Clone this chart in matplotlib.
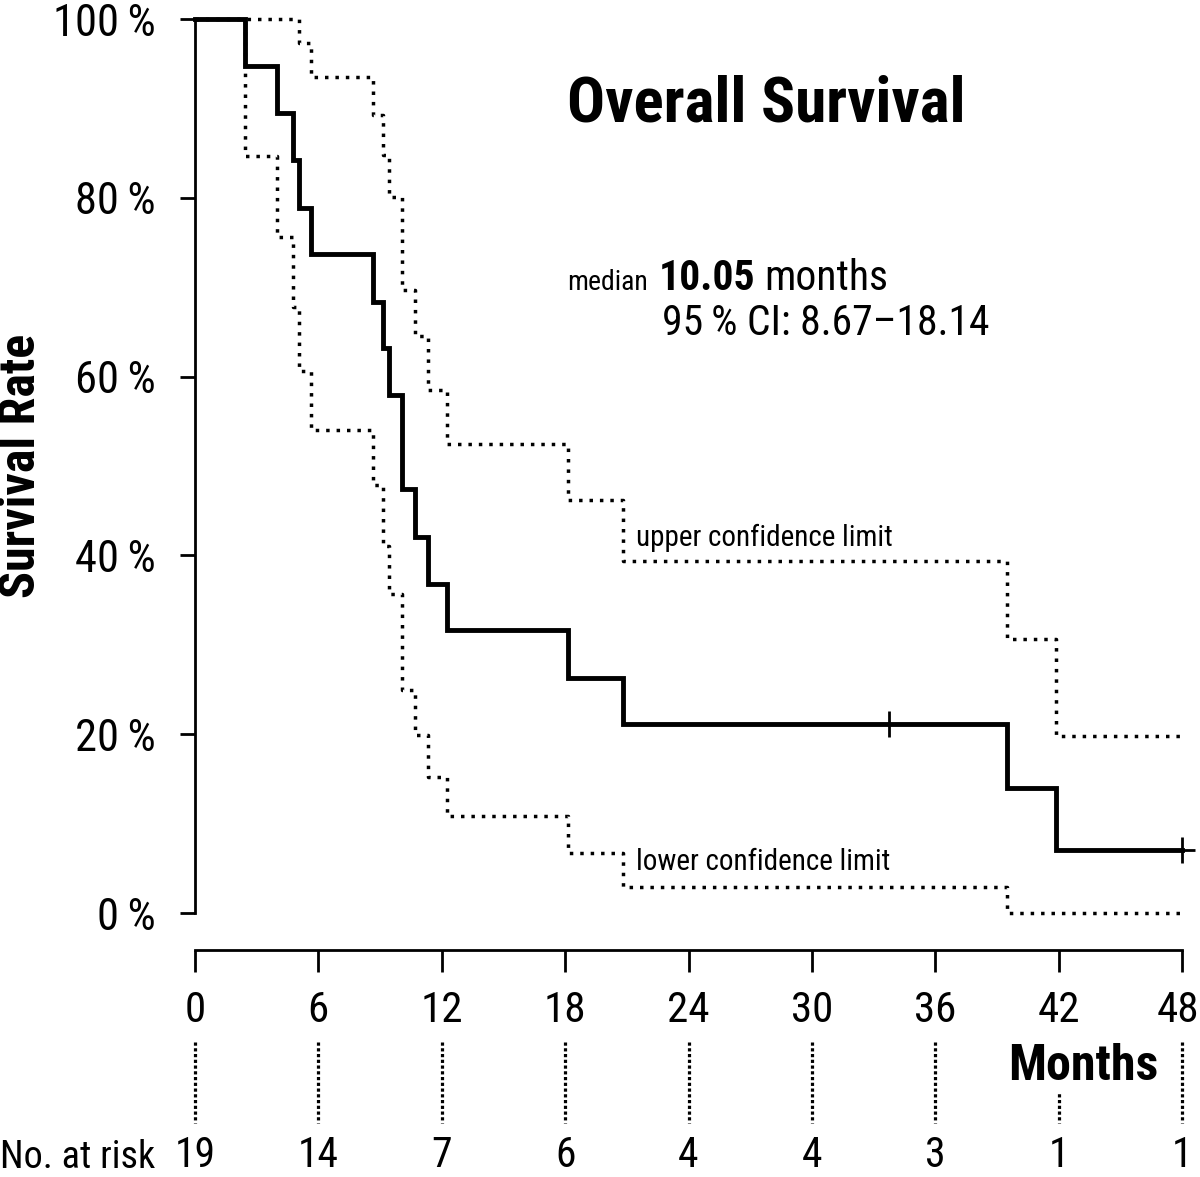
import matplotlib

matplotlib.use("Agg")
import matplotlib.pyplot as plt  # noqa: E402
from matplotlib import font_manager as fm  # noqa: E402
from matplotlib.transforms import ScaledTranslation, blended_transform_factory  # noqa: E402

# the original uses a condensed sans; take the narrowest one available
_have = {(f.name, f.stretch) for f in fm.fontManager.ttflist}
_names = {f.name for f in fm.fontManager.ttflist}
FAMILY, STRETCH = "DejaVu Sans", "normal"
for fam, st in [("Roboto Condensed", "normal"), ("Liberation Sans Narrow", "normal"),
                ("Open Sans Condensed", "normal"), ("Noto Sans", "condensed"),
                ("DejaVu Sans", "condensed"), ("Open Sans", "condensed"),
                ("Roboto", "condensed")]:
    if (fam, st) in _have or (st == "normal" and fam in _names):
        FAMILY, STRETCH = fam, st
        break
plt.rcParams["font.family"] = [FAMILY, "DejaVu Sans"]
plt.rcParams["font.stretch"] = STRETCH

# Kaplan-Meier estimate (months, % surviving)
times = [0, 2.43, 3.97, 4.75, 5.07, 5.64, 8.67, 9.16, 9.43, 10.05,
         10.70, 11.35, 12.24, 18.14, 20.83, 39.50, 41.88, 48.0]
surv = [100, 94.7, 89.5, 84.2, 78.9, 73.7, 68.4, 63.2, 57.9, 47.4,
        42.1, 36.8, 31.6, 26.3, 21.1, 14.0, 7.0, 7.0]
upper = [100, 100, 100, 100, 97.3, 93.5, 89.3, 84.8, 80.1, 69.7,
         64.5, 58.5, 52.5, 46.2, 39.4, 30.6, 19.8, 19.8]
lower = [100, 84.7, 75.6, 67.8, 60.6, 54.0, 47.9, 41.0, 35.7, 24.9,
         19.9, 15.2, 10.8, 6.7, 2.9, 0.0, 0.0, 0.0]
censor_t = [33.75, 48.0]
censor_s = [21.1, 7.0]

month_ticks = [0, 6, 12, 18, 24, 30, 36, 42, 48]
at_risk = [19, 14, 7, 6, 4, 4, 3, 1, 1]
pct_ticks = [0, 20, 40, 60, 80, 100]

W, H = 1200, 1177


def fy(py):
    return 1 - py / H


fig = plt.figure(figsize=(W / 100, H / 100), dpi=100)
ax = fig.add_axes([195 / W, fy(913), (1182 - 195) / W, (913 - 19) / H])
ax.set_xlim(0, 48)
ax.set_ylim(0, 100)

dots = (0, (1, 2.0))
ax.step(times, upper, where="post", color="black", lw=2.5, ls=dots, clip_on=False)
ax.step(times, lower, where="post", color="black", lw=2.5, ls=dots, clip_on=False)
ax.step(times, surv, where="post", color="black", lw=3.5, clip_on=False,
        solid_joinstyle="miter")
ax.plot(censor_t, censor_s, ls="none", marker="+", ms=19, mew=2,
        color="black", clip_on=False)

for s in ("top", "right"):
    ax.spines[s].set_visible(False)
ax.spines["left"].set_linewidth(2)
ax.spines["bottom"].set_linewidth(2)
ax.spines["bottom"].set_position(("outward", 26.6))

ax.set_xticks(month_ticks)
ax.set_xticklabels([str(m) for m in month_ticks])
ax.set_yticks(pct_ticks)
ax.set_yticklabels([f"{p}\u2009%" for p in pct_ticks])
ax.tick_params(axis="x", length=16, width=2, pad=13, labelsize=31)
ax.tick_params(axis="y", length=11, width=2, pad=17, labelsize=32)
# keep the last month label inside the canvas
last = ax.get_xticklabels()[-1]
last.set_transform(last.get_transform() + ScaledTranslation(-4 / 100, 0, fig.dpi_scale_trans))

fig.text(22 / W, fy(466), "Survival Rate", rotation=90, ha="center",
         va="center", fontsize=36, fontweight="bold")

# annotations inside the plot
ax.text(18.1, 88.5, "Overall Survival", fontsize=45.5, fontweight="bold",
        va="baseline", ha="left")
t1 = ax.text(18.1, 69.7, "median", fontsize=20, va="baseline", ha="left")
t2 = ax.annotate("10.05", xy=(1, 69.7), xycoords=(t1, "data"), xytext=(8, 0),
                 textcoords="offset points", fontsize=30, fontweight="bold",
                 va="baseline", ha="left")
ax.annotate("months", xy=(1, 69.7), xycoords=(t2, "data"), xytext=(6, 0),
            textcoords="offset points", fontsize=30, va="baseline", ha="left")
ax.text(22.7, 64.6, "95\u2009% CI: 8.67\u201318.14", fontsize=30,
        va="baseline", ha="left")
ax.text(21.45, 42.0, "upper confidence limit", fontsize=21, va="center",
        ha="left")
ax.text(21.45, 5.7, "lower confidence limit", fontsize=21, va="center",
        ha="left")

# number at risk table below the axis
tr = blended_transform_factory(ax.transData, fig.transFigure)
for m, n in zip(month_ticks, at_risk):
    ax.plot([m, m], [fy(1042), fy(1123)], transform=tr, color="black",
            lw=2.3, ls=(0, (1, 0.8)), clip_on=False, zorder=1)
    ax.text(m, fy(1176), str(n), transform=tr, ha="center", va="bottom",
            fontsize=30)
ax.text(1158 / W, fy(1080), "Months", transform=fig.transFigure, ha="right",
        va="baseline", fontsize=36, fontweight="bold", zorder=5,
        bbox=dict(facecolor="white", edgecolor="none", pad=2))
fig.text(0, fy(1176), "No. at risk", ha="left", va="bottom", fontsize=27.5)

fig.savefig("out.png", dpi=100)
plt.close(fig)
